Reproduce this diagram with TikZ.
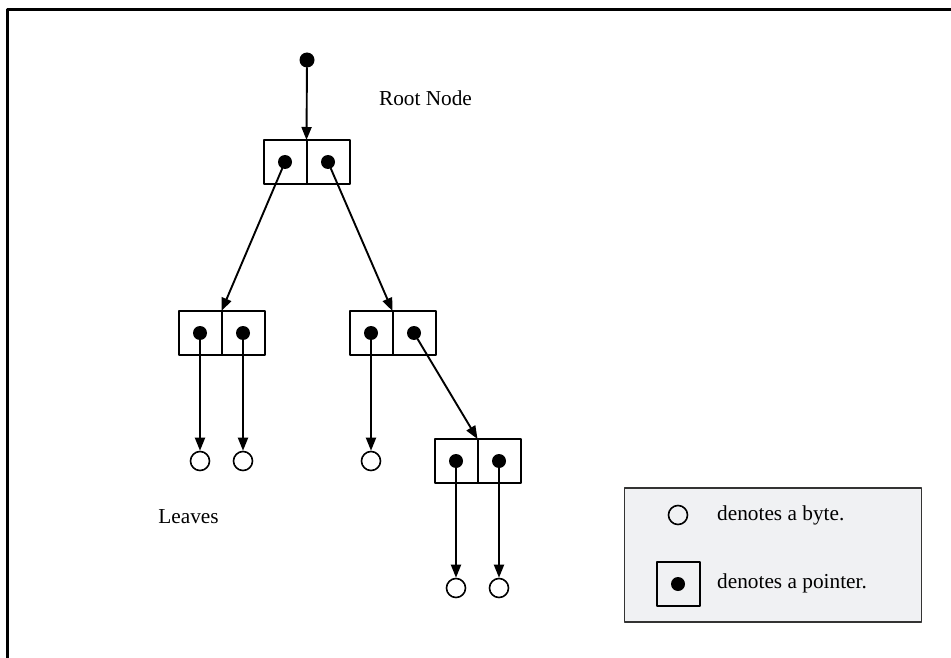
\documentclass[tikz,border=0pt]{standalone}
\usepackage{fontspec}
\setmainfont{Liberation Serif}
\usetikzlibrary{arrows.meta}
\usetikzlibrary{positioning}
\definecolor{legendfill}{rgb}{0.941,0.945,0.953}
\definecolor{legendline}{rgb}{0.2,0.2,0.2}

\begin{document}
\begin{tikzpicture}[line cap=round,line join=round,x=1pt,y=-1pt,
  >={Triangle[length=13pt,width=10pt]},
  cell/.style={draw,line width=2pt,minimum width=43pt,minimum height=44pt,inner sep=0pt,outer sep=0pt},
  ptr/.style={circle,fill=black,inner sep=0pt,minimum size=14pt},
  byte/.style={circle,draw,line width=1.6pt,inner sep=0pt,minimum size=19pt},
  link/.style={->,line width=1.9pt},
  lbl/.style={font=\fontsize{21.3}{25}\selectfont,inner sep=0pt}]
\useasboundingbox (0,0) rectangle (951,658);
% frame (only top and left edges show)
\draw[line width=3pt,line cap=butt] (7,658) -- (7,10) -- (951,10);
% root pointer and root node
\node[ptr,minimum size=15pt] (top) at (307,60) {};
\node[lbl] (rootlbl) at (425.5,98) {Root Node};
\node[cell] (rL) at (285,162) {};
\node[cell,right=0pt of rL] (rR) {};
\node[ptr] (rLd) at (rL.center) {};
\node[ptr] (rRd) at (rR.center) {};
% second level
\node[cell] (aL) at (200,333) {};
\node[cell,right=0pt of aL] (aR) {};
\node[ptr] (aLd) at (aL.center) {};
\node[ptr] (aRd) at (aR.center) {};
\node[cell] (bL) at (371,333) {};
\node[cell,right=0pt of bL] (bR) {};
\node[ptr] (bLd) at (bL.center) {};
\node[ptr] (bRd) at (bR.center) {};
% third level
\node[cell] (cL) at (456,461) {};
\node[cell,right=0pt of cL] (cR) {};
\node[ptr] (cLd) at (cL.center) {};
\node[ptr] (cRd) at (cR.center) {};
% leaves
\node[byte] (b1) at (aLd |- 0,461) {};
\node[byte] (b2) at (aRd |- 0,461) {};
\node[byte] (b3) at (bLd |- 0,461) {};
\node[byte] (b4) at (cLd |- 0,588) {};
\node[byte] (b5) at (cRd |- 0,588) {};
\node[lbl] (leaveslbl) at (188.5,517) {Leaves};
% pointers
\draw[link] (top) -- (rL.north east);
\draw[link] (rLd) -- (aL.north east);
\draw[link] (rRd) -- (bL.north east);
\draw[link] (bRd) -- (cL.north east);
\draw[link] (aLd) -- (b1);
\draw[link] (aRd) -- (b2);
\draw[link] (bLd) -- (b3);
\draw[link] (cLd) -- (b4);
\draw[link] (cRd) -- (b5);
% legend
\node[draw=legendline,fill=legendfill,line width=1.4pt,minimum width=297pt,minimum height=134pt,inner sep=0pt] (legend) at (773,555) {};
\node[byte] (keybyte) at (678,515) {};
\node[cell] (keycell) at (678,584) {};
\node[ptr] (keyptr) at (keycell.center) {};
\node[lbl,anchor=west] (keybytelbl) at (717,515) {denotes a byte.};
\node[lbl,anchor=west] (keyptrlbl) at (717,583) {denotes a pointer.};
\end{tikzpicture}
\end{document}
